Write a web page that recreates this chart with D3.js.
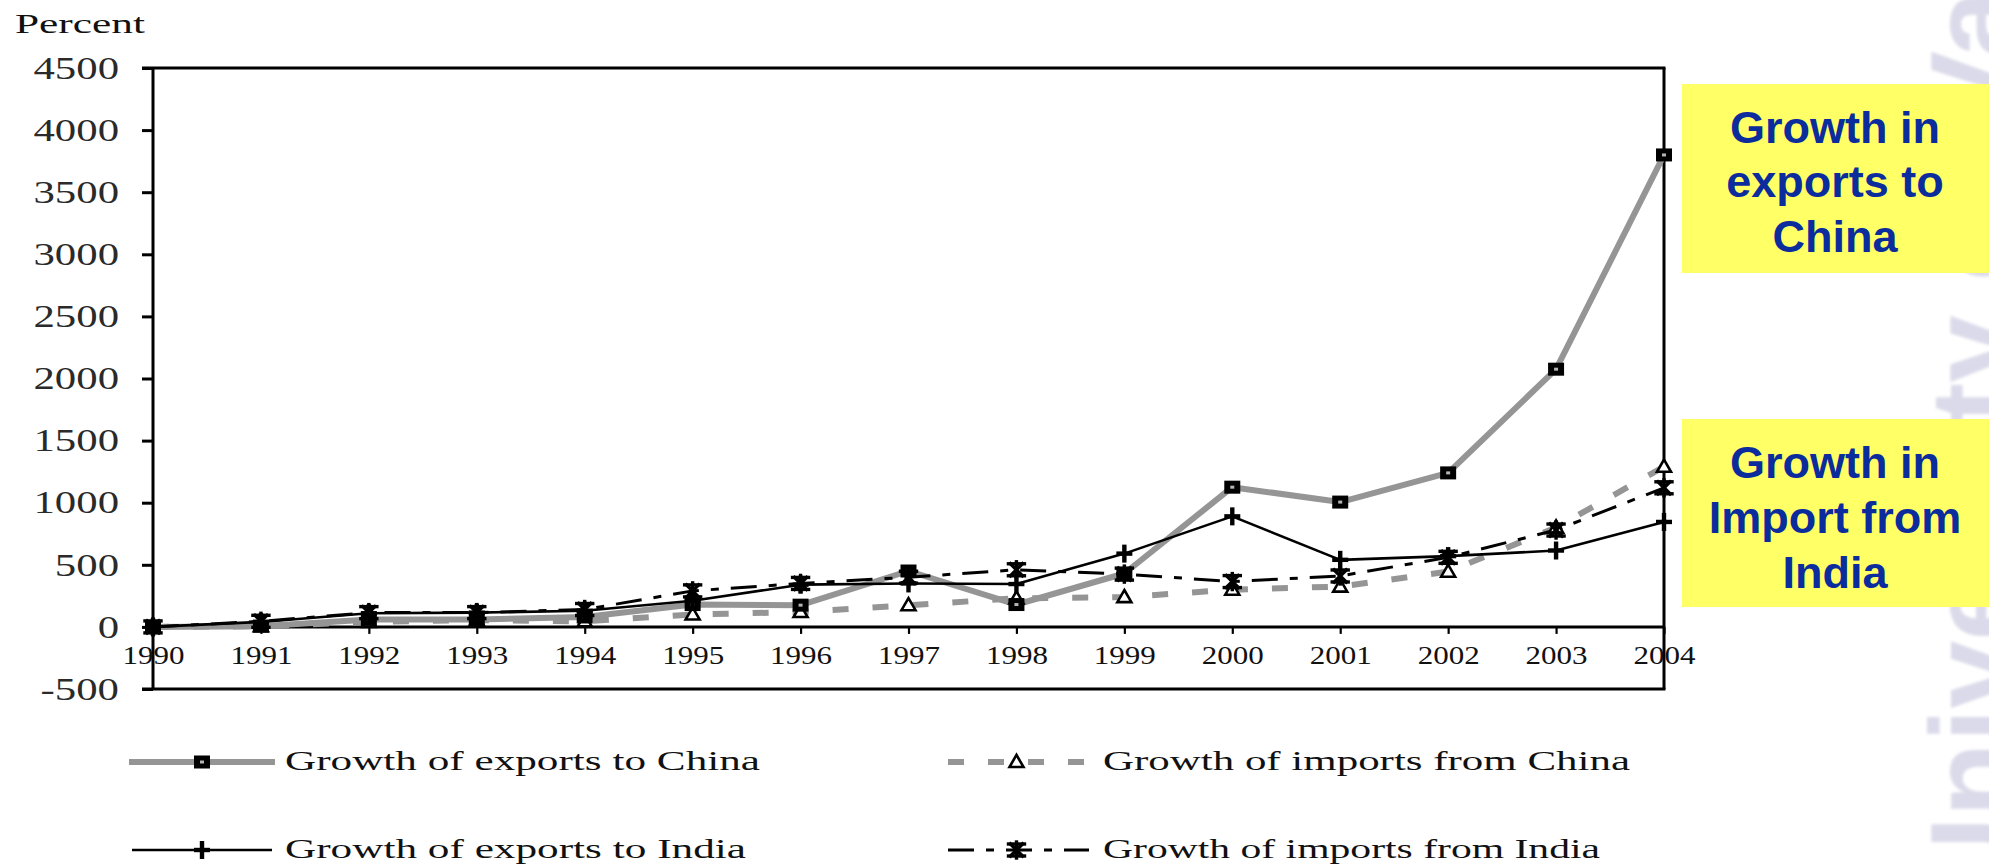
<!DOCTYPE html>
<html>
<head>
<meta charset="utf-8">
<script src="https://cdn.jsdelivr.net/npm/d3@7"></script>
<style>
  html, body { margin: 0; padding: 0; background: #ffffff; }
  svg { display: block; }
</style>
</head>
<body>
<svg id="chart" width="1989" height="864"></svg>
<script>
// ---- data (percent growth, base year 1990) ----
const years = [1990, 1991, 1992, 1993, 1994, 1995, 1996, 1997, 1998, 1999, 2000, 2001, 2002, 2003, 2004];
const exportsToChina   = [0, 5, 60, 60, 80, 180, 175, 450, 180, 430, 1125, 1005, 1240, 2075, 3800];
const importsFromChina = [0, 5, 40, 55, 45, 100, 120, 175, 230, 240, 300, 325, 445, 800, 1290];
const exportsToIndia   = [0, 40, 110, 115, 130, 210, 340, 350, 345, 590, 890, 540, 570, 615, 845];
const importsFromIndia = [0, 45, 115, 115, 140, 290, 350, 400, 460, 425, 365, 410, 560, 780, 1120];
const yTickValues = [-500, 0, 500, 1000, 1500, 2000, 2500, 3000, 3500, 4000, 4500];
const yAxisTitle = "Percent";
const seriesNames = [
  "Growth of exports to China",
  "Growth of imports from China",
  "Growth of exports to India",
  "Growth of imports from India"
];
const calloutExports = ["Growth in", "exports to", "China"];
const calloutImports = ["Growth in", "Import from", "India"];
const watermarkText = "University of Va";

const svg = d3.select("#chart");
const GRAY = "#959595";
const SERIF = "Liberation Serif, Times New Roman, serif";

// stretch a text horizontally (the chart's serif face is a wide one)
function widen(sel, k) {
  sel.each(function () {
    const len = this.getComputedTextLength();
    d3.select(this).attr("textLength", len * k).attr("lengthAdjust", "spacingAndGlyphs");
  });
}
function fitTo(sel, w) {
  sel.attr("textLength", w).attr("lengthAdjust", "spacingAndGlyphs");
}

// ---- background watermark on the right edge ----
svg.append("defs").append("filter").attr("id", "soft")
  .append("feGaussianBlur").attr("stdDeviation", 1.6);
svg.append("text")
  .attr("transform", "translate(2016,905) rotate(-90)")
  .attr("font-family", "Liberation Sans, Arial, sans-serif")
  .attr("font-weight", "bold")
  .attr("font-size", 122)
  .attr("fill", "#dadaea")
  .attr("filter", "url(#soft)")
  .text(watermarkText);

// ---- scales ----
const x = d3.scaleLinear().domain([1990, 2004]).range([153, 1664]);
const y = d3.scaleLinear().domain([-500, 4500]).range([689, 68]);

// ---- frame ----
const frame = svg.append("g").attr("stroke", "#000").attr("stroke-width", 3).attr("fill", "none");
frame.append("line").attr("x1", 142).attr("x2", x(2004) + 1.5).attr("y1", y(4500)).attr("y2", y(4500));
frame.append("line").attr("x1", 142).attr("x2", x(2004) + 1.5).attr("y1", y(-500)).attr("y2", y(-500));
frame.append("line").attr("x1", x(2004)).attr("x2", x(2004)).attr("y1", y(4500)).attr("y2", y(-500));
frame.append("line").attr("x1", x(1990)).attr("x2", x(1990)).attr("y1", y(4500)).attr("y2", y(-500));

// ---- y axis ----
const yAxis = svg.append("g")
  .attr("transform", `translate(${x(1990)},0)`)
  .call(d3.axisLeft(y).tickValues(yTickValues).tickSize(11).tickPadding(23).tickFormat(d => String(d)));
yAxis.select(".domain").remove();
yAxis.selectAll(".tick line").attr("stroke", "#000").attr("stroke-width", 3);
yAxis.selectAll(".tick text")
  .attr("font-family", SERIF)
  .attr("font-size", 31)
  .attr("fill", "#2a2a2a")
  .attr("dy", "0.33em")
  .call(widen, 1.38);

const title = svg.append("text")
  .attr("x", 15).attr("y", 33)
  .attr("font-family", SERIF)
  .attr("font-size", 28)
  .attr("fill", "#111")
  .text(yAxisTitle);
fitTo(title, 130);

// ---- x axis along zero ----
const xAxis = svg.append("g")
  .attr("transform", `translate(0,${y(0)})`)
  .call(d3.axisBottom(x).tickValues(years).tickSize(7).tickPadding(12).tickFormat(d3.format("d")));
xAxis.select(".domain").attr("stroke", "#000").attr("stroke-width", 3).attr("d", `M${x(1990)},0H${x(2004)}`);
xAxis.selectAll(".tick line").attr("stroke", "#000").attr("stroke-width", 2.2);
xAxis.selectAll(".tick text")
  .attr("font-family", SERIF)
  .attr("font-size", 25)
  .attr("fill", "#111")
  .call(widen, 1.24);

// ---- series ----
const series = [
  { name: seriesNames[0], values: exportsToChina,   stroke: GRAY,   width: 6,   dash: null,         marker: "square" },
  { name: seriesNames[1], values: importsFromChina, stroke: GRAY,   width: 6,   dash: "16,24",      marker: "triangle" },
  { name: seriesNames[2], values: exportsToIndia,   stroke: "#000", width: 2.6, dash: null,         marker: "plus" },
  { name: seriesNames[3], values: importsFromIndia, stroke: "#000", width: 3,   dash: "26,12,8,12", marker: "asterisk" }
];

const line = d3.line().x(d => x(d.year)).y(d => y(d.value));
const drawOrder = [1, 0, 3, 2];
drawOrder.forEach(i => {
  const s = series[i];
  const pts = years.map((yr, k) => ({ year: yr, value: s.values[k] }));
  svg.append("path")
    .datum(pts)
    .attr("d", line)
    .attr("fill", "none")
    .attr("stroke", s.stroke)
    .attr("stroke-width", s.width)
    .attr("stroke-dasharray", s.dash)
    .attr("stroke-linejoin", "round");
});

function drawMarker(g, type, cx, cy) {
  if (type === "square") {
    g.append("rect").attr("x", cx - 8).attr("y", cy - 6.5).attr("width", 16).attr("height", 13).attr("fill", "#000");
    g.append("rect").attr("x", cx - 2).attr("y", cy - 1.5).attr("width", 4).attr("height", 3).attr("fill", "#b5b5b5");
  } else if (type === "triangle") {
    g.append("path")
      .attr("d", d3.symbol(d3.symbolTriangle, 85)())
      .attr("transform", `translate(${cx},${cy + 1})`)
      .attr("fill", "#fff").attr("stroke", "#000").attr("stroke-width", 2.6);
  } else if (type === "plus") {
    g.append("rect").attr("x", cx - 8).attr("y", cy - 2.2).attr("width", 16).attr("height", 4.4).attr("fill", "#000");
    g.append("rect").attr("x", cx - 2.2).attr("y", cy - 9).attr("width", 4.4).attr("height", 18).attr("fill", "#000");
  } else if (type === "asterisk") {
    const r = 8;
    const a = g.append("g").attr("stroke", "#000").attr("stroke-width", 3.4).attr("stroke-linecap", "square");
    a.append("line").attr("x1", cx - r).attr("x2", cx + r).attr("y1", cy - 6).attr("y2", cy - 6);
    a.append("line").attr("x1", cx - r).attr("x2", cx + r).attr("y1", cy + 6).attr("y2", cy + 6);
    a.append("line").attr("x1", cx - 6).attr("x2", cx + 6).attr("y1", cy - 6).attr("y2", cy + 6);
    a.append("line").attr("x1", cx + 6).attr("x2", cx - 6).attr("y1", cy - 6).attr("y2", cy + 6);
    a.append("line").attr("x1", cx).attr("x2", cx).attr("y1", cy - 8).attr("y2", cy + 8);
  }
}

const markers = svg.append("g");
drawOrder.forEach(i => {
  const s = series[i];
  years.forEach((yr, k) => drawMarker(markers, s.marker, x(yr), y(s.values[k])));
});

// ---- legend ----
const legendItems = [
  { s: series[0], lx: 129, rx: 275, cy: 762, tx: 285, tl: 475 },
  { s: series[1], lx: 948, rx: 1089, cy: 762, tx: 1103, tl: 527 },
  { s: series[2], lx: 132, rx: 272, cy: 850, tx: 285, tl: 461 },
  { s: series[3], lx: 948, rx: 1089, cy: 850, tx: 1103, tl: 497 }
];
const legend = svg.append("g");
legendItems.forEach(it => {
  legend.append("line")
    .attr("x1", it.lx).attr("x2", it.rx).attr("y1", it.cy).attr("y2", it.cy)
    .attr("stroke", it.s.stroke).attr("stroke-width", it.s.width)
    .attr("stroke-dasharray", it.s.dash);
  drawMarker(legend, it.s.marker, (it.lx + it.rx) / 2 + (it.s.marker === "triangle" || it.s.marker === "asterisk" ? -2 : 0), it.cy);
  const t = legend.append("text")
    .attr("x", it.tx).attr("y", it.cy + 8)
    .attr("font-family", SERIF)
    .attr("font-size", 28)
    .attr("fill", "#111")
    .text(it.s.name);
  fitTo(t, it.tl);
});

// ---- callout boxes ----
function callout(top, bottom, lines, baselines) {
  svg.append("rect")
    .attr("x", 1682).attr("y", top).attr("width", 1989 - 1682).attr("height", bottom - top)
    .attr("fill", "#ffff66");
  lines.forEach((t, i) => {
    svg.append("text")
      .attr("x", 1835).attr("y", baselines[i])
      .attr("text-anchor", "middle")
      .attr("font-family", "Liberation Sans, Arial, sans-serif")
      .attr("font-weight", "bold")
      .attr("font-size", 45)
      .attr("fill", "#0b2c9c")
      .text(t);
  });
}
callout(84, 273, calloutExports, [143, 197, 252]);
callout(419, 607, calloutImports, [478, 533, 588]);
</script>
</body>
</html>
